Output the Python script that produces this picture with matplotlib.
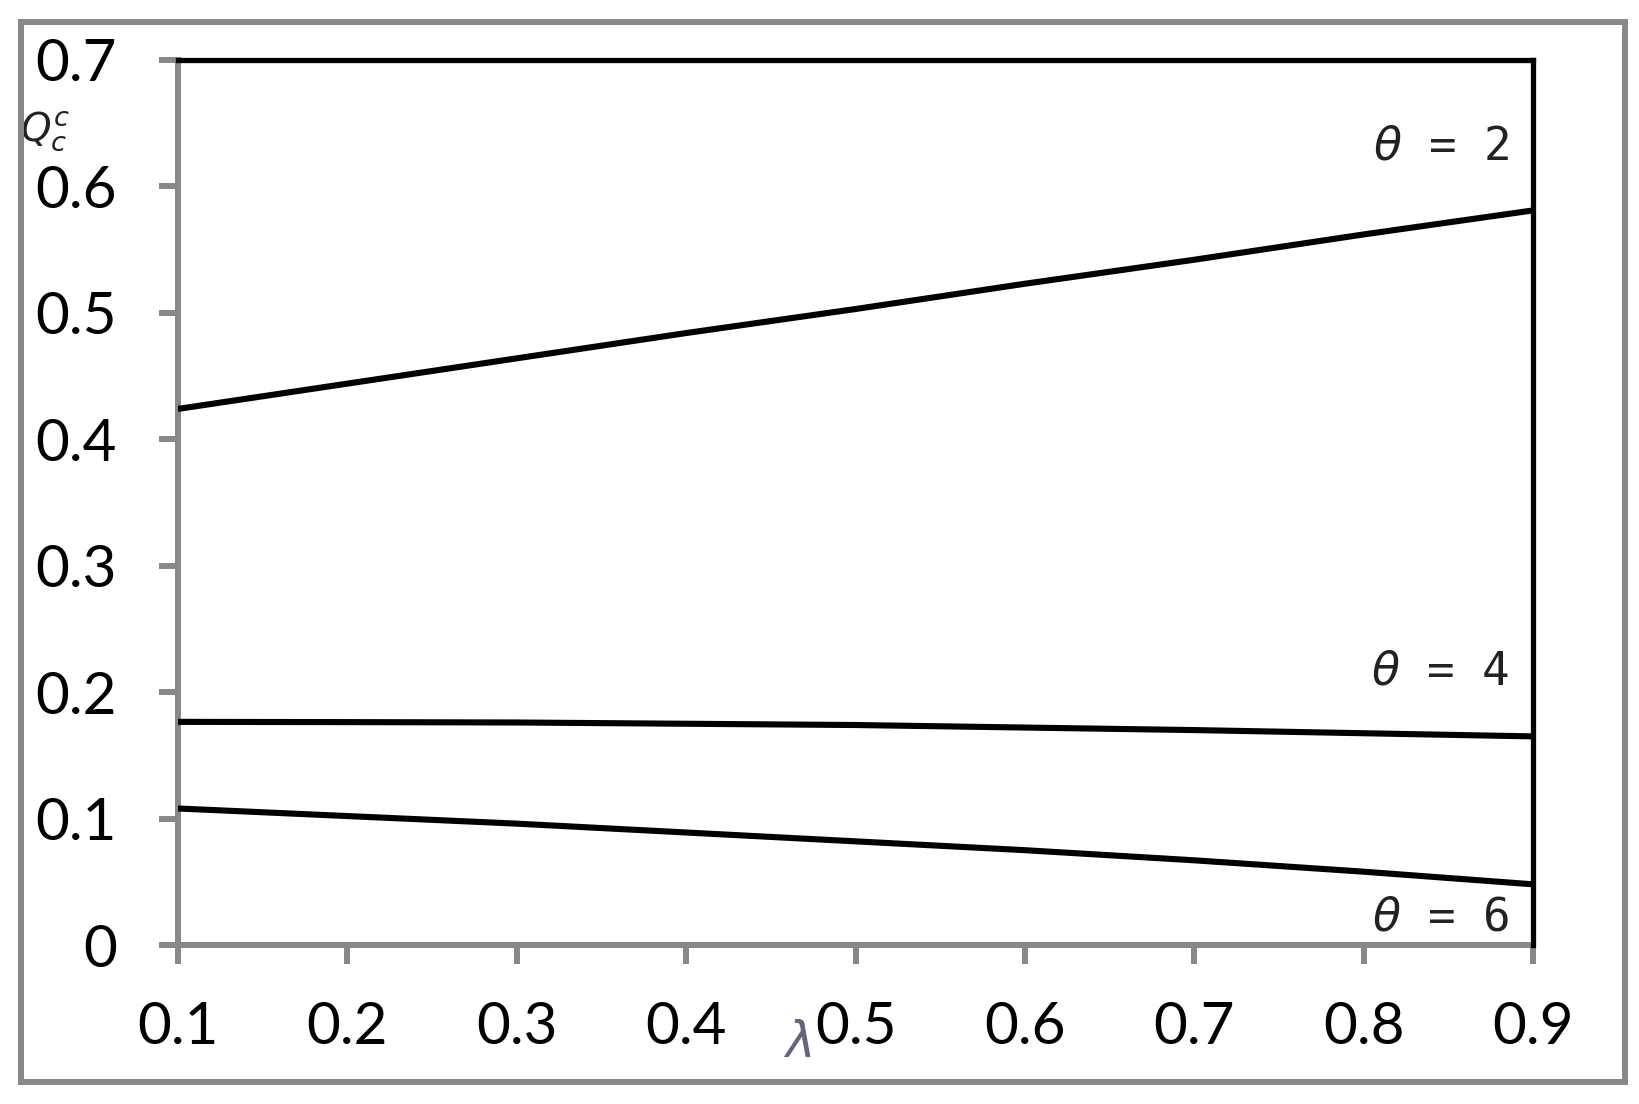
import matplotlib
matplotlib.use("Agg")
import matplotlib.pyplot as plt
from matplotlib.patches import Rectangle

# lambda values on the x axis
lam = [0.1, 0.2, 0.3, 0.4, 0.5, 0.6, 0.7, 0.8, 0.9]

# Q_c for each theta
q_theta2 = [0.424, 0.444, 0.464, 0.484, 0.503, 0.523, 0.542, 0.562, 0.581]
q_theta4 = [0.1765, 0.1763, 0.176, 0.175, 0.174, 0.172, 0.170, 0.1675, 0.165]
q_theta6 = [0.108, 0.102, 0.096, 0.089, 0.082, 0.075, 0.067, 0.058, 0.048]

curve_labels = ["$\\theta$ = 2", "$\\theta$ = 4", "$\\theta$ = 6"]
label_y = [0.631, 0.216, 0.021]

xticks = [0.1, 0.2, 0.3, 0.4, 0.5, 0.6, 0.7, 0.8, 0.9]
yticks = [0, 0.1, 0.2, 0.3, 0.4, 0.5, 0.6, 0.7]
ytick_labels = ["0", "0.1", "0.2", "0.3", "0.4", "0.5", "0.6", "0.7"]

GRAY = "#888888"

plt.rcParams["font.family"] = ["Lato", "DejaVu Sans"]
fig = plt.figure(figsize=(16.4, 11.04), dpi=100)
ax = fig.add_axes([0.1085, 0.144, 0.8263, 0.8017])

for q in (q_theta2, q_theta4, q_theta6):
    ax.plot(lam, q, color="black", lw=4.4, solid_capstyle="butt", zorder=3)

ax.set_xlim(0.1, 0.9)
ax.set_ylim(0, 0.7)
ax.set_xticks(xticks)
ax.set_xticklabels([f"{v:.1f}" for v in xticks])
ax.set_yticks(yticks)
ax.set_yticklabels(ytick_labels)

ax.tick_params(axis="both", direction="out", length=14, width=4.3,
               color=GRAY, labelsize=42, labelcolor="black")
ax.tick_params(axis="y", pad=30)
ax.tick_params(axis="x", pad=26)

for side in ("left", "bottom"):
    ax.spines[side].set_color(GRAY)
    ax.spines[side].set_linewidth(4.3)
for side in ("top", "right"):
    ax.spines[side].set_color("black")
    ax.spines[side].set_linewidth(3.8)
    ax.spines[side].set_zorder(4)

for txt, y in zip(curve_labels, label_y):
    ax.text(0.886, y, txt, ha="right", va="center", fontsize=33,
            family=["DejaVu Sans Mono"], color="#222222")

ax.set_xlabel("$\\lambda$", fontsize=36, color="#6a6080")
ax.xaxis.set_label_coords(0.457, -0.111)
ax.xaxis.label.set_va("center")

ax.set_ylabel("$Q^{c}_{c}$", fontsize=28, rotation=0, color="#222222")
ax.yaxis.set_label_coords(-0.098, 0.92)
ax.yaxis.label.set_va("center")

fig.add_artist(Rectangle((0.0125, 0.020), 0.9785, 0.960, transform=fig.transFigure,
                         fill=False, edgecolor=GRAY, lw=4.3))

fig.savefig("out.png", dpi=100, facecolor="white")
